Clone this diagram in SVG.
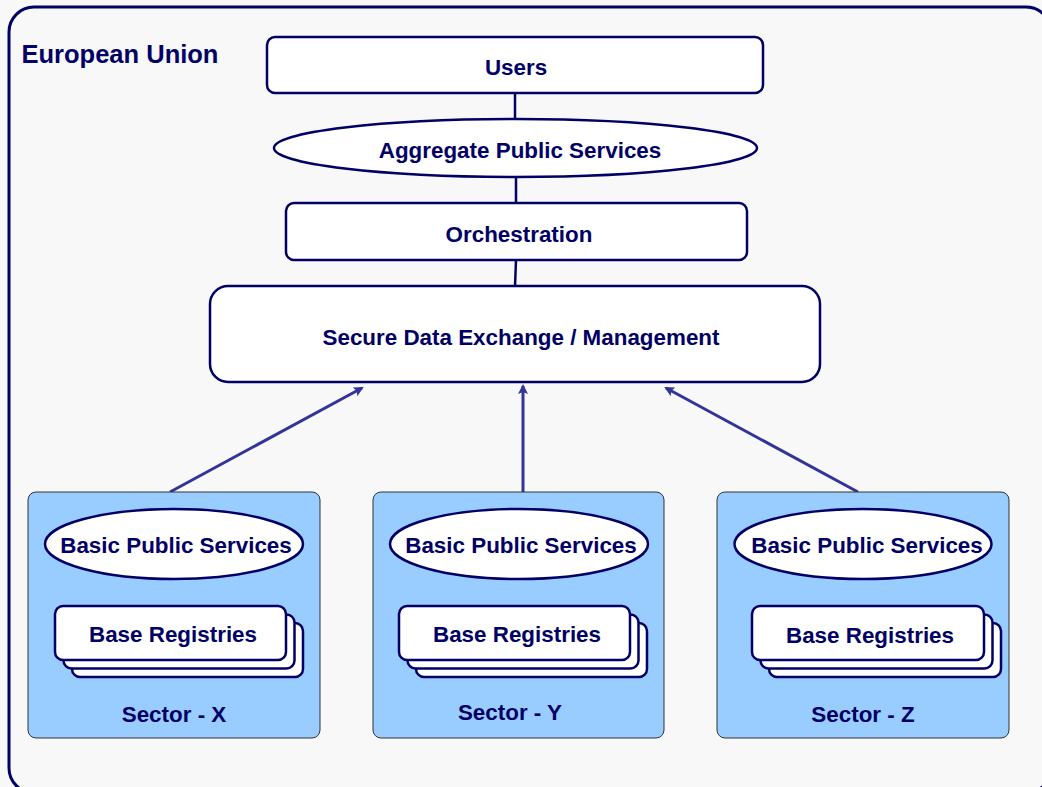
<svg xmlns="http://www.w3.org/2000/svg" width="1042" height="787" viewBox="0 0 1042 787">
<defs>
<style>
.t{font-family:"Liberation Sans",Arial,sans-serif;font-weight:bold;fill:#000066;text-anchor:middle;font-size:22.4px}
.b{fill:#ffffff;stroke:#000066;stroke-width:2.5}
.sec{fill:#99ccff;stroke:#333333;stroke-width:1}
.ln{stroke:#000066;stroke-width:2.5;fill:none}
.ar{stroke:#333399;stroke-width:3;fill:none;marker-end:url(#ah)}
</style>
<marker id="ah" markerWidth="10" markerHeight="10" refX="8" refY="5" orient="auto" markerUnits="userSpaceOnUse" viewBox="0 0 10 10">
<path d="M0,0 L10,5 L0,10 L2,5 Z" fill="#333399"/>
</marker>
</defs>
<rect x="0" y="0" width="1042" height="787" fill="#f8f8f8"/>
<g id="eu">
<rect x="9" y="7" width="1042" height="786" rx="25" fill="#f8f8f8" stroke="#000066" stroke-width="3"/>
<text class="t" x="120" y="63" style="font-size:25.5px">European Union</text>
</g>
<g id="connectors">
<line class="ln" x1="515" y1="93" x2="515" y2="120"/>
<line class="ln" x1="516" y1="177" x2="516" y2="204"/>
<line class="ln" x1="516" y1="260" x2="515" y2="287"/>
<line class="ar" x1="170" y1="492" x2="362" y2="388"/>
<line class="ar" x1="523" y1="492" x2="523" y2="386"/>
<line class="ar" x1="858" y1="492" x2="666" y2="388"/>
<line class="ln" x1="174" y1="579" x2="169" y2="607"/>
<line class="ln" x1="519" y1="579" x2="515" y2="607"/>
<line class="ln" x1="863" y1="580" x2="867" y2="607"/>
</g>
<g id="users">
<rect class="b" x="267" y="37" width="496" height="56" rx="8"/>
<text class="t" x="516" y="75">Users</text>
</g>
<g id="aggregate">
<ellipse class="b" cx="515.5" cy="148" rx="241.5" ry="29"/>
<text class="t" x="520" y="158">Aggregate Public Services</text>
</g>
<g id="orchestration">
<rect class="b" x="286" y="203" width="461" height="57" rx="8"/>
<text class="t" x="519" y="242">Orchestration</text>
</g>
<g id="secure">
<rect class="b" x="210" y="286" width="610" height="96" rx="18"/>
<text class="t" x="521" y="345">Secure Data Exchange / Management</text>
</g>
<g id="sector-x">
<rect class="sec" x="28" y="492" width="292" height="246" rx="8"/>
<ellipse class="b" cx="174" cy="544" rx="129" ry="35"/>
<text class="t" x="176" y="553">Basic Public Services</text>
<rect class="b" x="72" y="623" width="231" height="54" rx="8"/>
<rect class="b" x="63.5" y="614.5" width="231" height="54" rx="8"/>
<rect class="b" x="55" y="606" width="231" height="54" rx="8"/>
<text class="t" x="173" y="642">Base Registries</text>
<text class="t" x="174" y="722">Sector - X</text>
</g>
<g id="sector-y">
<rect class="sec" x="373" y="492" width="291" height="246" rx="8"/>
<ellipse class="b" cx="519" cy="544" rx="129" ry="35"/>
<text class="t" x="521" y="553">Basic Public Services</text>
<rect class="b" x="416" y="623" width="231" height="54" rx="8"/>
<rect class="b" x="407.5" y="614.5" width="231" height="54" rx="8"/>
<rect class="b" x="399" y="606" width="231" height="54" rx="8"/>
<text class="t" x="517" y="642">Base Registries</text>
<text class="t" x="510" y="720">Sector - Y</text>
</g>
<g id="sector-z">
<rect class="sec" x="717" y="492" width="292" height="246" rx="8"/>
<ellipse class="b" cx="863" cy="544" rx="128.5" ry="35"/>
<text class="t" x="867" y="553">Basic Public Services</text>
<rect class="b" x="769" y="623" width="232" height="54" rx="8"/>
<rect class="b" x="760.5" y="614.5" width="232" height="54" rx="8"/>
<rect class="b" x="752" y="606" width="232" height="54" rx="8"/>
<text class="t" x="870" y="643">Base Registries</text>
<text class="t" x="863" y="722">Sector - Z</text>
</g>
</svg>
